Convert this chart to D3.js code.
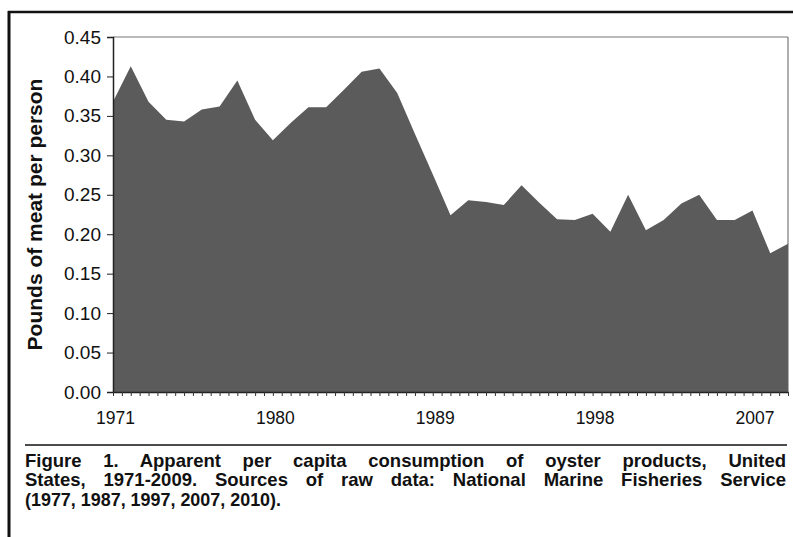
<!DOCTYPE html>
<html>
<head>
<meta charset="utf-8">
<script src="https://cdn.jsdelivr.net/npm/d3@7"></script>
<style>
  html, body { margin: 0; padding: 0; background: #fff; }
  svg { display: block; }
</style>
</head>
<body>
<svg id="chart" width="793" height="537"></svg>
<script>
// ---- data ----
const years = [1971,1972,1973,1974,1975,1976,1977,1978,1979,1980,
               1981,1982,1983,1984,1985,1986,1987,1988,1989,1990,
               1991,1992,1993,1994,1995,1996,1997,1998,1999,2000,
               2001,2002,2003,2004,2005,2006,2007,2008,2009];
const consumption = [0.368,0.413,0.368,0.345,0.343,0.358,0.362,0.395,0.345,0.319,
                     0.341,0.361,0.361,0.383,0.406,0.410,0.379,0.327,0.276,0.224,
                     0.243,0.241,0.237,0.262,0.240,0.219,0.218,0.226,0.203,0.250,
                     0.205,0.218,0.239,0.250,0.218,0.218,0.230,0.176,0.188];
const xLabels = [1971, 1980, 1989, 1998, 2007];
const yTicks = [0.00,0.05,0.10,0.15,0.20,0.25,0.30,0.35,0.40,0.45];
const yTitle = "Pounds of meat per person";
const captionLines = [
  "Figure 1. Apparent per capita consumption of oyster products, United",
  "States, 1971-2009. Sources of raw data: National Marine Fisheries Service",
  "(1977, 1987, 1997, 2007, 2010)."
];

// ---- layout ----
const svg = d3.select("#chart");
const plot = {left: 113, right: 788, top: 37, bottom: 392};
const FONT = "Liberation Sans, Arial, sans-serif";

const x = d3.scaleLinear().domain([years[0], years[years.length-1]]).range([plot.left, plot.right]);
const y = d3.scaleLinear().domain([0, 0.45]).range([plot.bottom, plot.top]);

// outer figure border (left and top)
svg.append("line").attr("x1", 9).attr("x2", 9).attr("y1", 11).attr("y2", 537)
  .attr("stroke", "#111").attr("stroke-width", 3);
svg.append("line").attr("x1", 8).attr("x2", 793).attr("y1", 12).attr("y2", 12)
  .attr("stroke", "#111").attr("stroke-width", 2.5);

// plot frame (top & right)
svg.append("line").attr("x1", plot.left).attr("x2", plot.right).attr("y1", plot.top).attr("y2", plot.top)
  .attr("stroke", "#777").attr("stroke-width", 1.2);
svg.append("line").attr("x1", plot.right).attr("x2", plot.right).attr("y1", plot.top).attr("y2", plot.bottom)
  .attr("stroke", "#777").attr("stroke-width", 1.2);

// area
const area = d3.area()
  .x((d, i) => x(years[i]))
  .y0(y(0))
  .y1(d => y(d));
svg.append("path").datum(consumption)
  .attr("d", area)
  .attr("fill", "#5b5b5b");

// y axis
const yAxis = d3.axisLeft(y).tickValues(yTicks).tickFormat(d3.format(".2f")).tickSize(6).tickPadding(6);
const gy = svg.append("g").attr("transform", `translate(${plot.left},0)`).call(yAxis);
gy.select(".domain").attr("stroke", "#222").attr("stroke-width", 1.5);
gy.selectAll(".tick line").attr("stroke", "#222");
gy.selectAll(".tick text").attr("font-family", FONT)
  .attr("font-size", 19).attr("fill", "#111");

// x axis: half-year minor ticks
const halfTicks = [];
years.forEach((yr, i) => { halfTicks.push(yr); if (i < years.length - 1) halfTicks.push(yr + 0.5); });
const xAxisMinor = d3.axisBottom(x).tickValues(halfTicks).tickFormat("").tickSize(4).tickSizeOuter(0);
const gx = svg.append("g").attr("transform", `translate(0,${plot.bottom})`).call(xAxisMinor);
gx.select(".domain").attr("stroke", "#222").attr("stroke-width", 1.5);
gx.selectAll(".tick line").attr("stroke", "#333");

const xAxisLabels = d3.axisBottom(x).tickValues(xLabels).tickFormat(d3.format("d")).tickSize(0).tickPadding(20);
const gxl = svg.append("g").attr("transform", `translate(2,${plot.bottom})`).call(xAxisLabels);
gxl.select(".domain").remove();
gxl.selectAll(".tick text").attr("font-family", FONT)
  .attr("font-size", 17.5).attr("fill", "#111");

// y title
svg.append("text")
  .attr("transform", `translate(42,${(plot.top + plot.bottom) / 2}) rotate(-90)`)
  .attr("text-anchor", "middle")
  .attr("font-family", FONT)
  .attr("font-weight", "bold")
  .attr("font-size", 21)
  .attr("fill", "#111")
  .text(yTitle);

// separator
svg.append("line").attr("x1", 25).attr("x2", 787).attr("y1", 445).attr("y2", 445)
  .attr("stroke", "#111").attr("stroke-width", 1.5);

// caption (justified)
const capLeft = 25, capRight = 786;
const baselines = [466.5, 486, 505.5];
captionLines.forEach((line, i) => {
  const t = svg.append("text")
    .attr("x", capLeft).attr("y", baselines[i])
    .attr("font-family", FONT)
    .attr("font-weight", "bold")
    .attr("font-size", 18.5)
    .attr("fill", "#111")
    .text(line);
  if (i < captionLines.length - 1) {
    const natural = t.node().getComputedTextLength();
    const spaces = (line.match(/ /g) || []).length;
    const extra = (capRight - capLeft - natural) / spaces;
    t.attr("word-spacing", extra);
  } else {
    t.attr("textLength", 256).attr("lengthAdjust", "spacingAndGlyphs");
  }
});
</script>
</body>
</html>
